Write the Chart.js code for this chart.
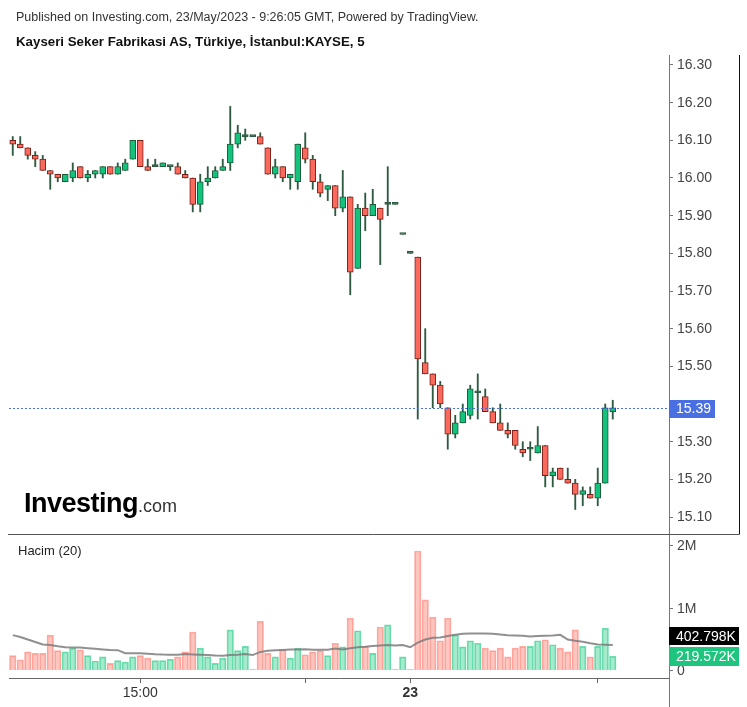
<!DOCTYPE html>
<html>
<head>
<meta charset="utf-8">
<script src="https://cdn.jsdelivr.net/npm/chart.js@4.4.0/dist/chart.umd.min.js"></script>
<style>
  body { margin: 0; background: #fff; }
  #wrap { position: relative; width: 747px; height: 707px; font-family: Arial, "Liberation Sans", sans-serif; }
  #wrap canvas { position: absolute; left: 0; top: 0; }
  .txt { position: absolute; white-space: nowrap; line-height: 1; }
</style>
</head>
<body>
<div id="wrap">
  <canvas id="chart" width="747" height="707"></canvas>
  <div class="txt" style="left:16px;top:11px;font-size:12.5px;color:#333">Published on Investing.com, 23/May/2023 - 9:26:05 GMT, Powered by TradingView.</div>
  <div class="txt" style="left:16px;top:35px;font-size:13.3px;font-weight:bold;color:#111">Kayseri Seker Fabrikasi AS, Türkiye, İstanbul:KAYSE, 5</div>
  <div class="txt" style="left:24px;top:490px;"><span style="font-size:27px;font-weight:bold;letter-spacing:-0.5px;color:#000">Investing</span><span style="font-size:18px;color:#333">.com</span></div>
  <div class="txt" style="left:18px;top:544px;font-size:13px;color:#222">Hacim (20)</div>
</div>
<script>
// 5 dakikalik mumlar, 22-23 Mayis 2023
const times = [
  '13:35','13:40','13:45','13:50','13:55','14:00','14:05','14:10','14:15','14:20',
  '14:25','14:30','14:35','14:40','14:45','14:50','14:55','15:00','15:05','15:10',
  '15:15','15:20','15:25','15:30','15:35','15:40','15:45','15:50','15:55','16:00',
  '16:05','16:10','16:15','16:20','16:25','16:30','16:35','16:40','16:45','16:50',
  '16:55','17:00','17:05','17:10','17:15','17:20','17:25','17:30','17:35','17:40',
  '17:45','17:50','17:55','10:00','10:05','10:10','10:15','10:20','10:25','10:30',
  '10:35','10:40','10:45','10:50','10:55','11:00','11:05','11:10','11:15','11:20',
  '11:25','11:30','11:35','11:40','11:45','11:50','11:55','12:00','12:05','12:10','12:15'
];
const opens = [
  16.10,16.09,16.08,16.06,16.05,16.02,16.01,15.99,16.00,16.03,
  16.00,16.01,16.01,16.03,16.01,16.02,16.05,16.10,16.03,16.03,
  16.03,16.03,16.03,16.01,16.00,15.93,15.99,16.00,16.02,16.04,
  16.09,16.11,16.11,16.11,16.08,16.01,16.03,16.00,15.99,16.08,
  16.05,15.99,15.97,15.98,15.92,15.95,15.76,15.92,15.90,15.92,
  15.93,15.93,15.85,15.80,15.79,15.51,15.48,15.45,15.39,15.32,
  15.35,15.37,15.43,15.42,15.38,15.35,15.33,15.33,15.28,15.28,
  15.27,15.29,15.21,15.23,15.20,15.19,15.16,15.16,15.15,15.19,15.38
];
const highs = [
  16.11,16.11,16.08,16.07,16.06,16.02,16.01,16.01,16.04,16.03,
  16.02,16.02,16.03,16.03,16.04,16.05,16.10,16.10,16.05,16.05,
  16.04,16.03,16.04,16.02,16.00,16.01,16.03,16.03,16.05,16.19,
  16.14,16.13,16.11,16.12,16.08,16.05,16.03,16.01,16.09,16.12,
  16.06,16.01,15.98,15.98,16.02,15.95,15.93,15.96,15.97,15.92,
  16.03,15.93,15.85,15.80,15.79,15.60,15.48,15.46,15.39,15.37,
  15.40,15.45,15.48,15.44,15.39,15.40,15.35,15.33,15.30,15.30,
  15.34,15.29,15.23,15.23,15.23,15.20,15.18,15.18,15.23,15.40,15.41
];
const lows = [
  16.06,16.08,16.05,16.03,16.02,15.97,15.99,15.99,15.99,16.00,
  15.99,16.00,16.00,16.01,16.01,16.02,16.05,16.03,16.02,16.03,
  16.03,16.02,16.01,16.00,15.91,15.91,15.98,16.00,16.02,16.02,
  16.08,16.10,16.11,16.09,16.01,16.00,15.99,15.97,15.97,16.04,
  15.97,15.95,15.94,15.90,15.91,15.69,15.76,15.86,15.90,15.77,
  15.90,15.93,15.85,15.80,15.36,15.48,15.39,15.39,15.28,15.31,
  15.35,15.36,15.36,15.38,15.35,15.33,15.31,15.28,15.26,15.25,
  15.27,15.18,15.18,15.20,15.19,15.12,15.13,15.15,15.13,15.19,15.36
];
const closes = [
  16.09,16.08,16.06,16.05,16.02,16.01,16.00,16.01,16.02,16.00,
  16.01,16.02,16.03,16.01,16.03,16.04,16.10,16.03,16.02,16.03,
  16.04,16.03,16.01,16.00,15.93,15.99,16.00,16.02,16.03,16.09,
  16.12,16.11,16.11,16.09,16.01,16.03,16.00,16.01,16.09,16.05,
  15.99,15.96,15.98,15.92,15.95,15.75,15.92,15.90,15.93,15.89,
  15.93,15.93,15.85,15.80,15.52,15.48,15.45,15.40,15.32,15.35,
  15.38,15.44,15.43,15.38,15.35,15.33,15.32,15.29,15.27,15.28,
  15.29,15.21,15.22,15.20,15.19,15.16,15.17,15.15,15.19,15.39,15.39
];
const volumes = [
  230000,165000,290000,267000,267000,560000,310000,290000,350000,325000,
  230000,144000,210000,107000,150000,128000,210000,230000,190000,150000,
  150000,170000,210000,290000,610000,350000,210000,107000,190000,645000,
  310000,380000,5000,780000,267000,210000,325000,190000,350000,245000,
  290000,310000,230000,430000,370000,830000,630000,380000,267000,690000,
  725000,5000,210000,5000,1910000,1125000,850000,470000,830000,565000,
  370000,470000,430000,350000,310000,350000,210000,350000,380000,380000,
  470000,485000,405000,350000,290000,645000,380000,210000,380000,667000,219572
];
// Hacim (20) ortalama cizgisi
const volumeMA = [
  560000,530000,490000,450000,410000,400000,380000,365000,360000,360000,
  350000,340000,330000,322000,318000,270000,268000,267000,262000,252000,
  247000,245000,245000,255000,250000,245000,240000,232000,230000,240000,
  245000,258000,240000,290000,310000,318000,323000,328000,330000,335000,
  327000,325000,325000,345000,330000,350000,365000,372000,385000,392000,
  400000,395000,400000,365000,440000,490000,518000,522000,545000,565000,
  583000,587000,587000,587000,580000,570000,557000,555000,550000,537000,
  545000,550000,555000,565000,490000,470000,455000,430000,408000,405000,402798
];
// 15.40 etiketi son fiyat kutusunun altinda kaliyor, gosterilmiyor
const priceTicks = [15.10,15.20,15.30,15.50,15.60,15.70,15.80,15.90,16.00,16.10,16.20,16.30];
const volTicks = [0, 1000000, 2000000];
const volTickText = ['0', '1M', '2M'];
const xTickIndex = [17, 39, 53, 78];
const xTickText = ['15:00', '', '23', ''];

// eksen araliklari (ust fiyat paneli + alt hacim paneli ayni alanda)
const PRICE_MAX = 16.3265, PRICE_MIN = 14.6727, PANE_SPLIT = 15.055;
const VOL_MAX = 9872000, VOL_MIN = -128400;
const EMPTY_SLOTS = 7;

const FONT = 'Arial, "Liberation Sans", sans-serif';
const GREEN = '#13c27c', GREEN_EDGE = '#1d5a37';
const RED = '#f96a5c', RED_EDGE = '#7a2018';
const WICK = '#2d5a40';
const VOL_GREEN = 'rgba(40,205,135,0.42)', VOL_GREEN_EDGE = 'rgba(40,205,135,0.65)';
const VOL_RED = 'rgba(255,118,106,0.42)', VOL_RED_EDGE = 'rgba(255,118,106,0.6)';

function isUp(i) { return closes[i] >= opens[i]; }
function bodyFill(i) {
  if (closes[i] === opens[i]) return WICK;
  return closes[i] > opens[i] ? GREEN : RED;
}
function bodyEdge(i) {
  if (closes[i] === opens[i]) return WICK;
  return closes[i] > opens[i] ? GREEN_EDGE : RED_EDGE;
}

function labelBox(c, x, y, w, h, fill, text) {
  c.fillStyle = fill;
  c.fillRect(x, Math.round(y - h / 2), w, h);
  c.fillStyle = '#fff';
  c.font = '14px ' + FONT;
  c.textAlign = 'left';
  c.textBaseline = 'middle';
  c.fillText(text, x + 7, y + 1);
}

const overlay = {
  id: 'overlay',
  afterDraw(chart) {
    const c = chart.ctx, a = chart.chartArea, y = chart.scales.y, yv = chart.scales.yv;
    c.save();
    c.lineWidth = 1;

    // panel ayirici ve cerceve
    const split = Math.round(y.getPixelForValue(PANE_SPLIT)) + 0.5;
    c.strokeStyle = '#555';
    c.beginPath(); c.moveTo(a.left - 1, split); c.lineTo(739, split); c.stroke();
    c.strokeStyle = '#111';
    c.beginPath(); c.moveTo(739.5, a.top); c.lineTo(739.5, split); c.stroke();
    c.strokeStyle = '#777';
    c.beginPath(); c.moveTo(a.right + 0.5, a.bottom); c.lineTo(a.right + 0.5, 707); c.stroke();

    // son fiyat cizgisi
    const last = closes[closes.length - 1];
    const py = Math.round(y.getPixelForValue(last)) + 0.5;
    c.strokeStyle = '#4a6fe3';
    c.setLineDash([2, 2]);
    c.beginPath(); c.moveTo(a.left, py); c.lineTo(a.right, py); c.stroke();
    c.setLineDash([]);
    labelBox(c, a.right, py, 46, 18, '#4a6fe3', last.toFixed(2));

    // hacim ekseni
    c.font = '14px ' + FONT;
    c.textAlign = 'left';
    c.textBaseline = 'middle';
    volTicks.forEach((v, i) => {
      const ty = Math.round(yv.getPixelForValue(v)) + 0.5;
      c.strokeStyle = '#777';
      c.beginPath(); c.moveTo(a.right, ty); c.lineTo(a.right + 4, ty); c.stroke();
      c.fillStyle = '#444';
      c.fillText(volTickText[i], a.right + 8, ty + 1);
    });

    // hacim etiketleri
    const n = volumes.length - 1;
    const vy = yv.getPixelForValue(volumes[n]);
    const my = Math.min(yv.getPixelForValue(volumeMA[n]), vy - 20);
    labelBox(c, a.right, vy, 70, 19, isUp(n) ? '#1fc47f' : '#f25b4e', (volumes[n] / 1000).toFixed(3) + 'K');
    labelBox(c, a.right, my, 70, 18, '#000', (volumeMA[n] / 1000).toFixed(3) + 'K');
    c.restore();
  }
};

const ctx = document.getElementById('chart').getContext('2d');
new Chart(ctx, {
  type: 'bar',
  data: {
    labels: times.concat(new Array(EMPTY_SLOTS).fill('')),
    datasets: [
      {
        label: 'Govde',
        data: opens.map((o, i) => [o, closes[i]]),
        yAxisID: 'y',
        grouped: false,
        barThickness: 6,
        minBarLength: 2,
        borderWidth: 1,
        borderSkipped: false,
        backgroundColor: c => bodyFill(c.dataIndex),
        borderColor: c => bodyEdge(c.dataIndex),
        order: 0
      },
      {
        label: 'Fitil',
        data: lows.map((l, i) => [l, highs[i]]),
        yAxisID: 'y',
        grouped: false,
        barThickness: 1.2,
        borderWidth: 0,
        backgroundColor: WICK,
        order: 1
      },
      {
        type: 'line',
        label: 'Hacim (20)',
        data: volumeMA,
        yAxisID: 'yv',
        borderColor: 'rgba(125,125,125,0.85)',
        borderWidth: 2,
        pointRadius: 0,
        tension: 0,
        order: 2
      },
      {
        label: 'Hacim',
        data: volumes,
        yAxisID: 'yv',
        grouped: false,
        barThickness: 6.5,
        borderWidth: 1,
        backgroundColor: c => isUp(c.dataIndex) ? VOL_GREEN : VOL_RED,
        borderColor: c => isUp(c.dataIndex) ? VOL_GREEN_EDGE : VOL_RED_EDGE,
        order: 3
      }
    ]
  },
  options: {
    responsive: false,
    animation: false,
    events: [],
    layout: { padding: { left: 9, right: 8, top: 55, bottom: 0 } },
    plugins: { legend: { display: false }, tooltip: { enabled: false } },
    scales: {
      x: {
        type: 'category',
        offset: true,
        grid: { display: true, offset: false, drawOnChartArea: false, drawTicks: true, tickLength: 5, color: '#666' },
        border: { color: '#666' },
        afterBuildTicks: s => { s.ticks = xTickIndex.map(v => ({ value: v })); },
        afterFit: s => { s.height = 29; },
        ticks: {
          autoSkip: false,
          maxRotation: 0,
          padding: 2,
          color: '#333',
          font: c => ({ family: FONT, size: 14, weight: (c.tick && c.tick.value === 53) ? 'bold' : 'normal' }),
          callback: v => xTickText[xTickIndex.indexOf(v)]
        }
      },
      y: {
        position: 'right',
        min: PRICE_MIN,
        max: PRICE_MAX,
        afterBuildTicks: s => { s.ticks = priceTicks.map(v => ({ value: v })); },
        afterFit: s => { s.width = 70; },
        grid: { display: true, drawOnChartArea: false, drawTicks: true, tickLength: 4, color: '#777' },
        border: { color: '#777' },
        ticks: { color: '#444', padding: 4, font: { family: FONT, size: 14 }, callback: v => v.toFixed(2) }
      },
      yv: {
        display: false,
        min: VOL_MIN,
        max: VOL_MAX
      }
    }
  },
  plugins: [overlay]
});
</script>
</body>
</html>
